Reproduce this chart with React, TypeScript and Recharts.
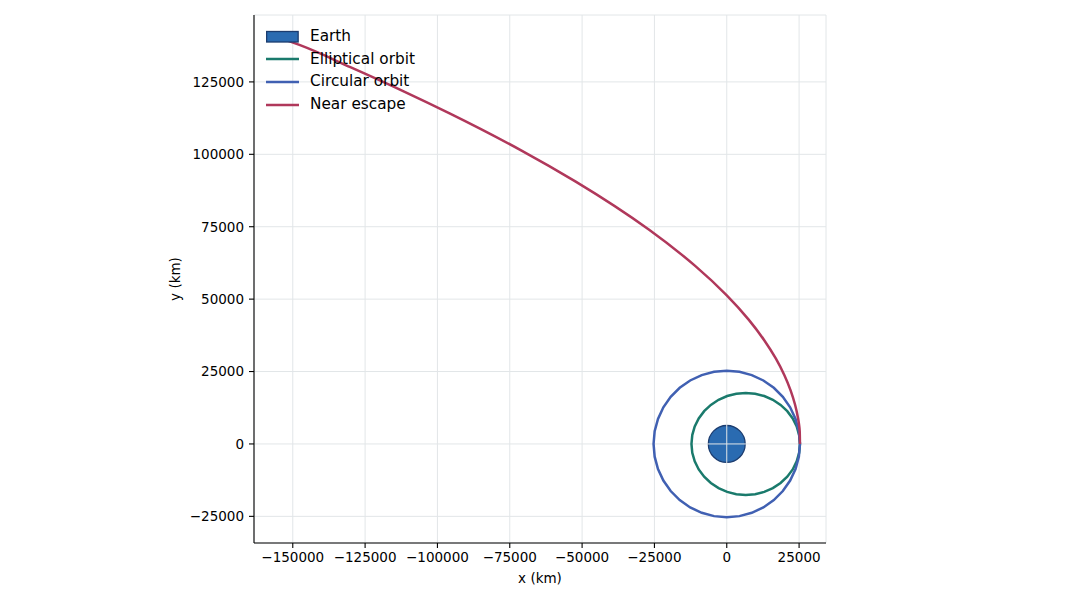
import { CartesianGrid, Line, LineChart, ReferenceArea, XAxis, YAxis } from "recharts";

type Pt = { x: number; y: number };

const xTicks = [-150000, -125000, -100000, -75000, -50000, -25000, 0, 25000];
const yTicks = [-25000, 0, 25000, 50000, 75000, 100000, 125000];
const xDomain: [number, number] = [-163400, 34300];
const yDomain: [number, number] = [-34200, 148100];
const earthRadius = 6371;

// points read along each drawn path (km)
const circularOrbit: Pt[] = [
  { x: 25300, y: 0 }, { x: 24920, y: 4390 }, { x: 23770, y: 8650 }, { x: 21910, y: 12650 },
  { x: 19380, y: 16260 }, { x: 16260, y: 19380 }, { x: 12650, y: 21910 }, { x: 8650, y: 23770 },
  { x: 4390, y: 24920 }, { x: 0, y: 25300 }, { x: -4390, y: 24920 }, { x: -8650, y: 23770 },
  { x: -12650, y: 21910 }, { x: -16260, y: 19380 }, { x: -19380, y: 16260 }, { x: -21910, y: 12650 },
  { x: -23770, y: 8650 }, { x: -24920, y: 4390 }, { x: -25300, y: 0 }, { x: -24920, y: -4390 },
  { x: -23770, y: -8650 }, { x: -21910, y: -12650 }, { x: -19380, y: -16260 }, { x: -16260, y: -19380 },
  { x: -12650, y: -21910 }, { x: -8650, y: -23770 }, { x: -4390, y: -24920 }, { x: 0, y: -25300 },
  { x: 4390, y: -24920 }, { x: 8650, y: -23770 }, { x: 12650, y: -21910 }, { x: 16260, y: -19380 },
  { x: 19380, y: -16260 }, { x: 21910, y: -12650 }, { x: 23770, y: -8650 }, { x: 24920, y: -4390 },
  { x: 25300, y: 0 },
];

const ellipticalOrbit: Pt[] = [
  { x: 25300, y: 0 }, { x: 25020, y: 3060 }, { x: 24170, y: 6020 }, { x: 22790, y: 8800 },
  { x: 20910, y: 11310 }, { x: 18600, y: 13480 }, { x: 15930, y: 15240 }, { x: 12960, y: 16540 },
  { x: 9810, y: 17330 }, { x: 6550, y: 17600 }, { x: 3300, y: 17330 }, { x: 140, y: 16540 },
  { x: -2830, y: 15240 }, { x: -5500, y: 13480 }, { x: -7810, y: 11310 }, { x: -9690, y: 8800 },
  { x: -11070, y: 6020 }, { x: -11920, y: 3060 }, { x: -12200, y: 0 }, { x: -11920, y: -3060 },
  { x: -11070, y: -6020 }, { x: -9690, y: -8800 }, { x: -7810, y: -11310 }, { x: -5500, y: -13480 },
  { x: -2830, y: -15240 }, { x: 140, y: -16540 }, { x: 3300, y: -17330 }, { x: 6550, y: -17600 },
  { x: 9810, y: -17330 }, { x: 12960, y: -16540 }, { x: 15930, y: -15240 }, { x: 18600, y: -13480 },
  { x: 20910, y: -11310 }, { x: 22790, y: -8800 }, { x: 24170, y: -6020 }, { x: 25020, y: -3060 },
  { x: 25300, y: 0 },
];

const nearEscape: Pt[] = [
  { x: 25300, y: 0 }, { x: 25210, y: 4440 }, { x: 24620, y: 8960 }, { x: 23590, y: 13620 },
  { x: 22060, y: 18510 }, { x: 19920, y: 23740 }, { x: 16990, y: 29430 }, { x: 13010, y: 35740 },
  { x: 7570, y: 42930 }, { x: 0, y: 51300 }, { x: -10830, y: 61400 }, { x: -26950, y: 74040 },
  { x: -52350, y: 90670 }, { x: -70930, y: 101300 }, { x: -95800, y: 114150 }, { x: -111500, y: 121670 },
  { x: -130100, y: 130100 }, { x: -147700, y: 137760 }, { x: -153000, y: 139700 },
];

const legendLabels = ["Earth", "Elliptical orbit", "Circular orbit", "Near escape"];

const EARTH_FILL = "#2a6bb1";
const EARTH_EDGE = "#1b3c6f";
const ELLIPSE_COLOR = "#1a7a6c";
const CIRCLE_COLOR = "#4060b2";
const ESCAPE_COLOR = "#b0385b";
const GRID_COLOR = "#e2e6e8";
const FONT = "'DejaVu Sans', sans-serif";
const LINE_W = 2.5;

const legendColors = [EARTH_FILL, ELLIPSE_COLOR, CIRCLE_COLOR, ESCAPE_COLOR];

const fmt = (v: number) => (v < 0 ? `\u2212${Math.abs(v)}` : String(v));

function EarthShape(props: any) {
  const { x, y, width, height } = props;
  return (
    <ellipse
      cx={x + width / 2}
      cy={y + height / 2}
      rx={Math.abs(width) / 2}
      ry={Math.abs(height) / 2}
      fill={EARTH_FILL}
      stroke={EARTH_EDGE}
      strokeWidth={1.3}
    />
  );
}

const tickStyle = { fontSize: 13.5, fill: "#000", fontFamily: FONT };

export default function App() {
  return (
    <div style={{ position: "relative", width: 1080, height: 600, background: "#fff", fontFamily: FONT }}>
      <style>{"body{margin:0}"}</style>
      <LineChart width={1080} height={600} margin={{ top: 15, right: 254, bottom: 27, left: 194 }}>
        <ReferenceArea
          x1={-earthRadius}
          x2={earthRadius}
          y1={-earthRadius}
          y2={earthRadius}
          shape={EarthShape}
          ifOverflow="visible"
        />
        {/* grid sits over the Earth patch, under the orbits */}
        <CartesianGrid stroke={GRID_COLOR} strokeWidth={1} zIndex={150} />
        <XAxis
          type="number"
          dataKey="x"
          domain={xDomain}
          ticks={xTicks}
          tickFormatter={fmt}
          allowDataOverflow
          height={30}
          tickSize={5}
          tickMargin={4}
          tick={tickStyle}
          stroke="#000"
          axisLine={{ stroke: "#000", strokeWidth: 1.1 }}
          tickLine={{ stroke: "#000", strokeWidth: 1.1 }}
        />
        <YAxis
          type="number"
          dataKey="y"
          domain={yDomain}
          ticks={yTicks}
          tickFormatter={fmt}
          allowDataOverflow
          width={60}
          tickSize={5}
          tickMargin={5}
          tick={tickStyle}
          stroke="#000"
          axisLine={{ stroke: "#000", strokeWidth: 1.1 }}
          tickLine={{ stroke: "#000", strokeWidth: 1.1 }}
        />
        <Line data={ellipticalOrbit} dataKey="y" type="linear" stroke={ELLIPSE_COLOR} strokeWidth={LINE_W} dot={false} activeDot={false} isAnimationActive={false} />
        <Line data={circularOrbit} dataKey="y" type="linear" stroke={CIRCLE_COLOR} strokeWidth={LINE_W} dot={false} activeDot={false} isAnimationActive={false} />
        <Line data={nearEscape} dataKey="y" type="monotoneY" stroke={ESCAPE_COLOR} strokeWidth={LINE_W} dot={false} activeDot={false} isAnimationActive={false} />
      </LineChart>

      <div style={{ position: "absolute", left: 266, top: 25.5 }}>
        {legendLabels.map((label, i) => (
          <div key={label} style={{ display: "flex", alignItems: "center", height: 22.6 }}>
            <svg width={33} height={14} style={{ display: "block" }}>
              {i === 0 ? (
                <rect x={0.65} y={1.5} width={31.5} height={10.5} fill={legendColors[i]} stroke={EARTH_EDGE} strokeWidth={1.3} />
              ) : (
                <line x1={0} x2={33} y1={7} y2={7} stroke={legendColors[i]} strokeWidth={LINE_W} />
              )}
            </svg>
            <span style={{ marginLeft: 11, fontSize: 15.3, color: "#000", lineHeight: 1 }}>{label}</span>
          </div>
        ))}
      </div>

      <div style={{ position: "absolute", left: 540, top: 578, transform: "translate(-50%, -50%)", fontSize: 13.5, color: "#000", whiteSpace: "nowrap" }}>
        x (km)
      </div>
      <div style={{ position: "absolute", left: 175, top: 279, transform: "translate(-50%, -50%) rotate(-90deg)", fontSize: 13.5, color: "#000", whiteSpace: "nowrap" }}>
        y (km)
      </div>
    </div>
  );
}
